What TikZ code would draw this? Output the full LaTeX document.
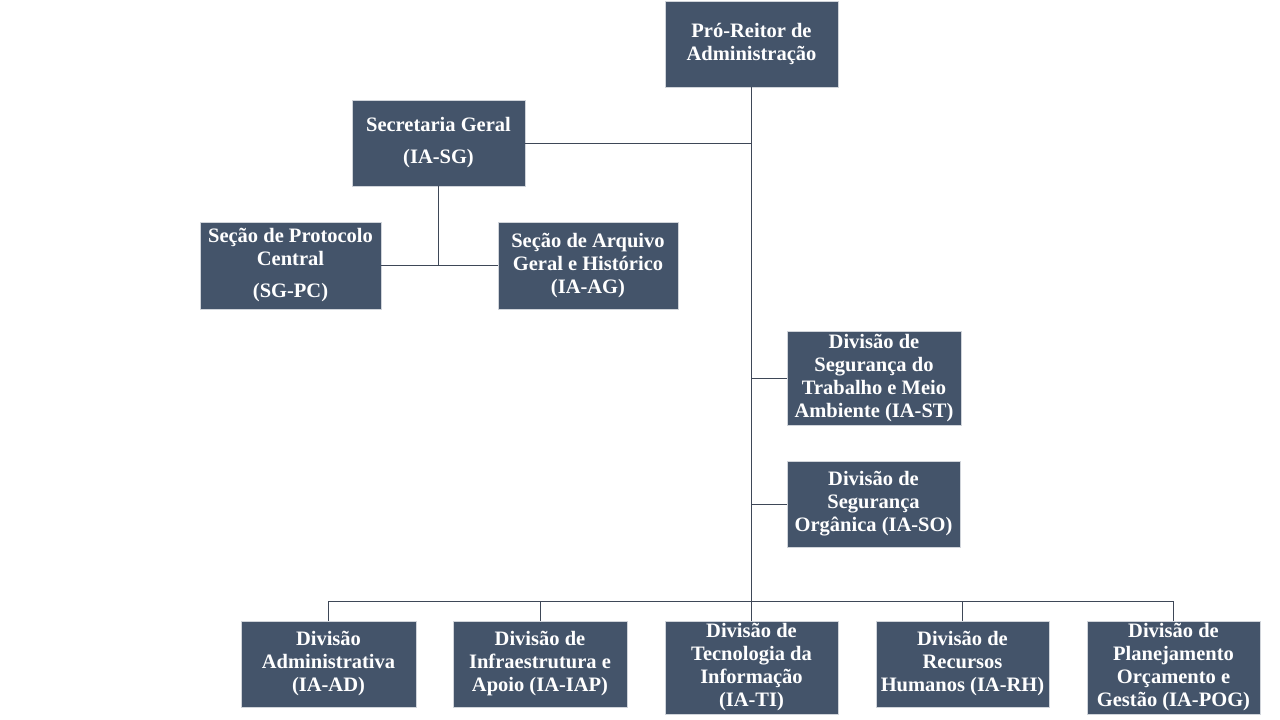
\documentclass[tikz,border=0pt]{standalone}
\usepackage{fontspec}
\setmainfont{Liberation Serif}
\definecolor{boxfill}{HTML}{44546A}
\definecolor{boxline}{HTML}{D0D4DA}
\definecolor{conn}{HTML}{3E4757}
\begin{document}
\begin{tikzpicture}[x=1pt,y=-1pt,
  orgbox/.style={draw=boxline,line width=0.8pt,fill=boxfill,text=white,
    font=\fontsize{20.5}{23}\selectfont\bfseries,align=center,inner sep=0pt},
  conline/.style={draw=conn,line width=1pt}]
\useasboundingbox[fill=white] (0,0) rectangle (1280,720);
\node[orgbox,minimum width=173pt,minimum height=86pt] (pra) at (751.5,44) {Pró-Reitor de\\Administração};
\node[orgbox,minimum width=173pt,minimum height=86pt] (sg) at (438.5,143) {Secretaria Geral\\[9pt](IA-SG)};
\node[orgbox,minimum width=181pt,minimum height=87pt] (pc) at (290.5,265.5) {Seção de Protocolo\\Central\\[9pt](SG-PC)};
\node[orgbox,minimum width=180pt,minimum height=87pt] (ag) at (588,265.5) {Seção de Arquivo\\Geral e Histórico\\(IA-AG)};
\node[orgbox,minimum width=174pt,minimum height=94pt] (st) at (874,378) {Divisão de\\Segurança do\\Trabalho e Meio\\Ambiente (IA-ST)};
\node[orgbox,minimum width=173pt,minimum height=86pt] (so) at (873.5,504) {Divisão de\\Segurança\\Orgânica (IA-SO)};
\node[orgbox,minimum width=175pt,minimum height=86pt] (ad) at (328.5,664) {Divisão\\Administrativa\\(IA-AD)};
\node[orgbox,minimum width=174pt,minimum height=86pt] (iap) at (540,664) {Divisão de\\Infraestrutura e\\Apoio (IA-IAP)};
\node[orgbox,minimum width=173pt,minimum height=93pt] (ti) at (751.5,667.5) {Divisão de\\Tecnologia da\\Informação\\(IA-TI)};
\node[orgbox,minimum width=173pt,minimum height=86pt] (rh) at (962.5,664) {Divisão de\\Recursos\\Humanos (IA-RH)};
\node[orgbox,minimum width=173pt,minimum height=93pt] (pog) at (1173.5,667.5) {Divisão de\\Planejamento\\Orçamento e\\Gestão (IA-POG)};
\coordinate (bus) at (751.5,601);
\coordinate (sgj) at (sg.south |- pc.east);
\draw[conline] (pra.south) -- (bus);
\draw[conline] (sg.east) -- (sg.east -| pra.south);
\draw[conline] (st.west) -- (st.west -| pra.south);
\draw[conline] (so.west) -- (so.west -| pra.south);
\draw[conline] (sg.south) -- (sgj);
\draw[conline] (pc.east) -- (ag.west);
\draw[conline] (ad.north) -- (ad.north |- bus) -- (pog.north |- bus) -- (pog.north);
\draw[conline] (iap.north) -- (iap.north |- bus);
\draw[conline] (ti.north) -- (bus);
\draw[conline] (rh.north) -- (rh.north |- bus);
\end{tikzpicture}
\end{document}
